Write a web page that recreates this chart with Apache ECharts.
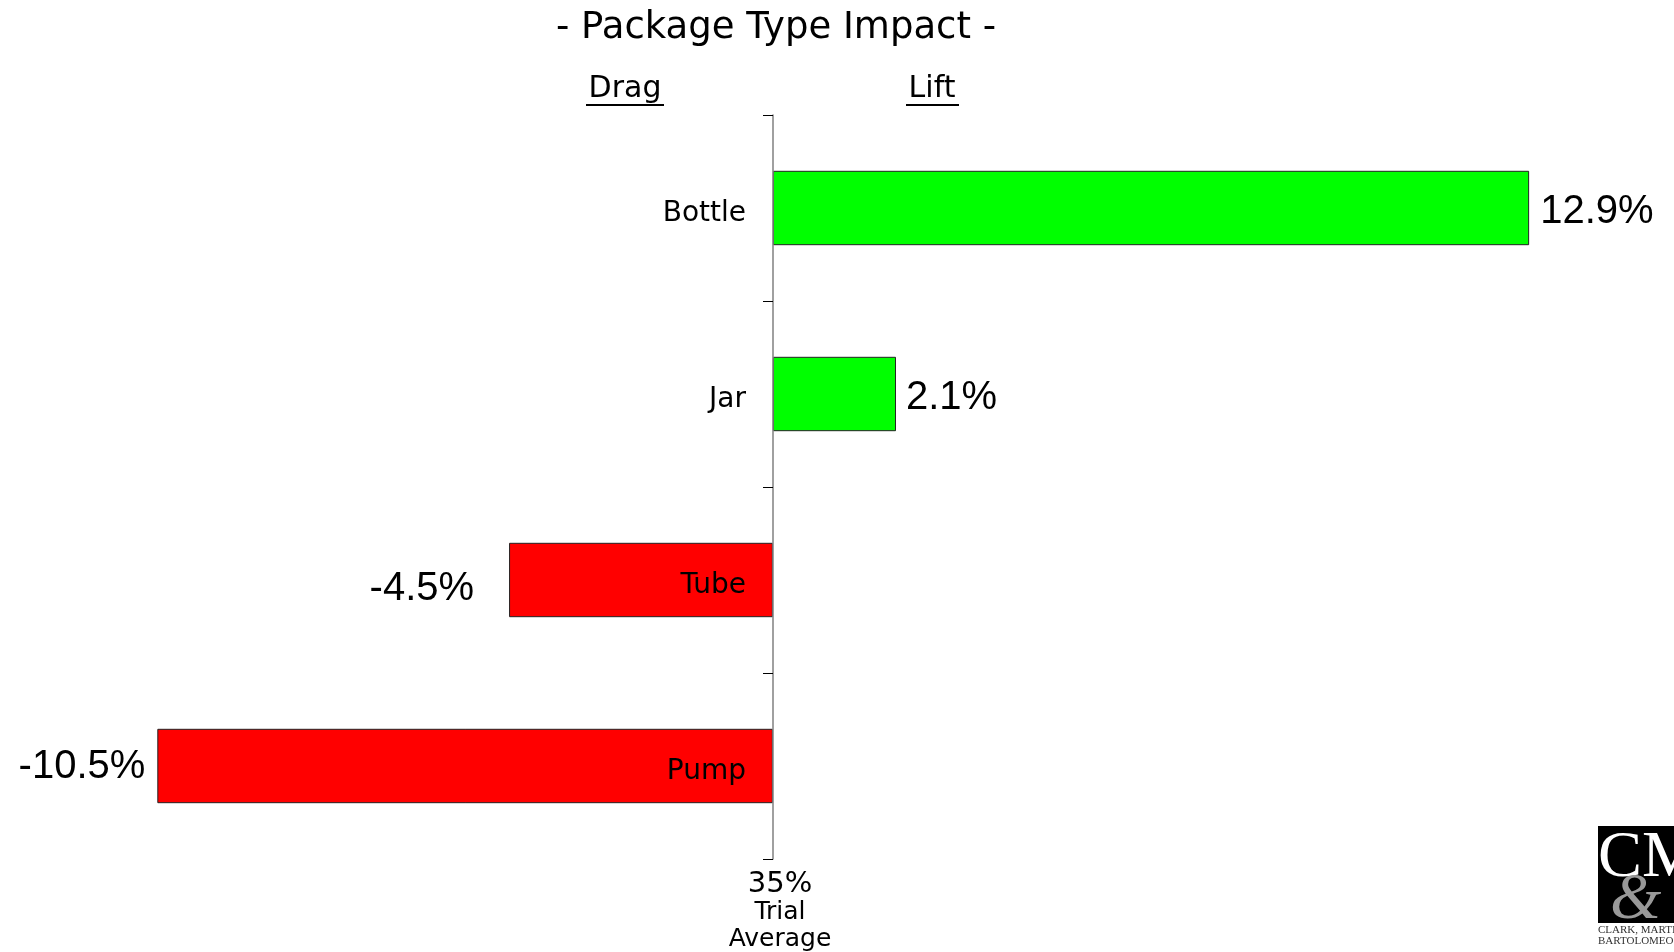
<!DOCTYPE html>
<html>
<head>
<meta charset="utf-8">
<script src="https://cdn.jsdelivr.net/npm/echarts@6/dist/echarts.min.js"></script>
<style>
html,body{margin:0;padding:0;background:#fff;}
#chart{width:1674px;height:952px;}
</style>
</head>
<body>
<div id="chart"></div>
<script>
const categories = ['Bottle', 'Jar', 'Tube', 'Pump'];
const values = [12.9, 2.1, -4.5, -10.5];
const labelGaps = [11, 10, 35, 12];
const labelShiftY = [4, 4, 9, 1];
const titleText = '- Package Type Impact -';
const sideLabels = ['Drag', 'Lift'];
const baseLabels = ['35%', 'Trial', 'Average'];

const chart = echarts.init(document.getElementById('chart'));

const data = values.map((v, i) => ({
  value: v,
  itemStyle: { color: v >= 0 ? '#00ff00' : '#ff0000' },
  label: { position: v >= 0 ? 'right' : 'left', distance: labelGaps[i], offset: [0, labelShiftY[i]] }
}));

chart.setOption({
  animation: false,
  backgroundColor: '#ffffff',
  grid: { left: 128, right: 139, top: 115, bottom: 93, containLabel: false, outerBoundsMode: 'none' },
  xAxis: {
    type: 'value', min: -11, max: 13,
    axisLine: { show: false }, axisTick: { show: false },
    axisLabel: { show: false }, splitLine: { show: false }
  },
  yAxis: {
    type: 'category', data: categories, inverse: true, z: 10,
    position: 'left', offset: -645,
    axisLine: { show: true, onZero: false, lineStyle: { color: '#808080', width: 1.5 } },
    axisTick: { show: true, length: 10, lineStyle: { color: '#000', width: 1 } },
    axisLabel: {
      margin: 27, color: '#000',
      formatter: v => '{a|' + v + '}',
      rich: { a: { fontSize: 28, fontFamily: 'DejaVu Sans', color: '#000', padding: [12, 0, 0, 0] } }
    },
    splitLine: { show: false }
  },
  series: [{
    type: 'bar',
    data: data,
    barCategoryGap: '60%',
    itemStyle: { borderColor: '#222', borderWidth: 1 },
    label: {
      show: true, fontSize: 40, color: '#000', fontFamily: 'Liberation Sans',
      formatter: p => p.value + '%'
    }
  }],
  graphic: [
    { type: 'text', x: 776, y: 28, style: { text: titleText, fontSize: 37, fontFamily: 'DejaVu Sans', fill: '#000', align: 'center', verticalAlign: 'middle' } },
    { type: 'text', x: 625, y: 89, style: { text: sideLabels[0], fontSize: 30, fontFamily: 'DejaVu Sans', fill: '#000', align: 'center', verticalAlign: 'middle' } },
    { type: 'line', shape: { x1: 586, y1: 105, x2: 664, y2: 105 }, style: { stroke: '#000', lineWidth: 2 } },
    { type: 'text', x: 932, y: 89, style: { text: sideLabels[1], fontSize: 30, fontFamily: 'DejaVu Sans', fill: '#000', align: 'center', verticalAlign: 'middle' } },
    { type: 'line', shape: { x1: 906, y1: 105, x2: 959, y2: 105 }, style: { stroke: '#000', lineWidth: 2 } },
    { type: 'text', x: 780, y: 884, style: { text: baseLabels[0], fontSize: 29, fontFamily: 'DejaVu Sans', fill: '#000', align: 'center', verticalAlign: 'middle' } },
    { type: 'text', x: 780, y: 912, style: { text: baseLabels[1], fontSize: 25, fontFamily: 'DejaVu Sans', fill: '#000', align: 'center', verticalAlign: 'middle' } },
    { type: 'text', x: 780, y: 939, style: { text: baseLabels[2], fontSize: 25, fontFamily: 'DejaVu Sans', fill: '#000', align: 'center', verticalAlign: 'middle' } },
    { type: 'rect', shape: { x: 1598, y: 826, width: 80, height: 97 }, style: { fill: '#000' } },
    { type: 'text', x: 1598, y: 826, style: { text: 'CM', fontSize: 66, fontFamily: 'Liberation Serif', fill: '#fff' } },
    { type: 'text', x: 1610, y: 868, style: { text: '&', fontSize: 66, fontStyle: 'italic', fontFamily: 'Liberation Serif', fill: '#999' } },
    { type: 'text', x: 1598, y: 925, style: { text: 'CLARK, MARTIRE', fontSize: 11, fontFamily: 'Liberation Serif', fill: '#333' } },
    { type: 'text', x: 1598, y: 936, style: { text: 'BARTOLOMEO', fontSize: 11, fontFamily: 'Liberation Serif', fill: '#333' } }
  ]
});
</script>
</body>
</html>
